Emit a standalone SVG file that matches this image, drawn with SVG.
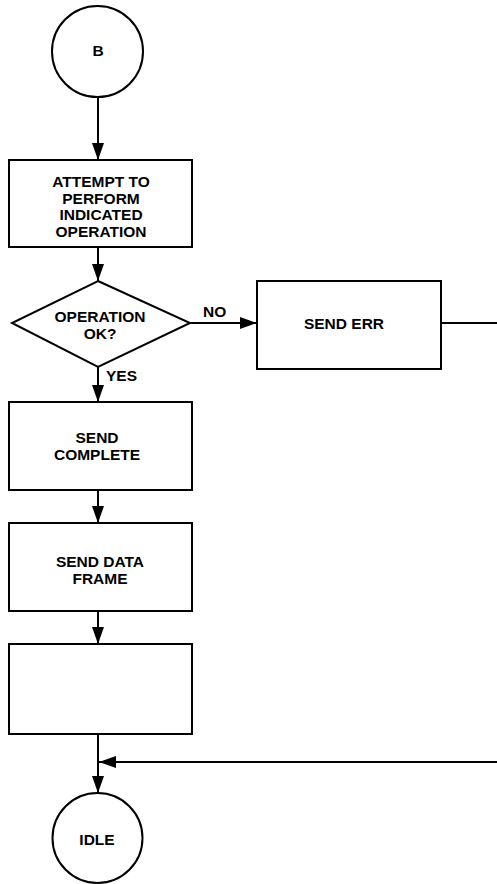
<svg xmlns="http://www.w3.org/2000/svg" width="497" height="884" viewBox="0 0 497 884">
<defs>
<marker id="ah" markerUnits="userSpaceOnUse" markerWidth="17" markerHeight="14" viewBox="0 0 17 14" refX="17" refY="7" orient="auto">
<path d="M0,1 L17,7 L0,13 Z" fill="#000"/>
</marker>
</defs>
<style>
.s{fill:#fff;stroke:#000;stroke-width:2}
.c{fill:none;stroke:#000;stroke-width:2}
text{font-family:"Liberation Sans",Arial,sans-serif;font-weight:bold;font-size:15.5px;fill:#000;text-anchor:middle}
.l{text-anchor:start}
</style>
<rect width="497" height="884" fill="#fff"/>
<g id="connectors">
<path class="c" d="M98,97 L98,160" marker-end="url(#ah)"/>
<path class="c" d="M98,247 L98,281" marker-end="url(#ah)"/>
<path class="c" d="M190,323 L257,323" marker-end="url(#ah)"/>
<path class="c" d="M98,367 L98,402" marker-end="url(#ah)"/>
<path class="c" d="M98,490 L98,523" marker-end="url(#ah)"/>
<path class="c" d="M98,611 L98,644" marker-end="url(#ah)"/>
<path class="c" d="M98,734 L98,793" marker-end="url(#ah)"/>
<path class="c" d="M441,323 L497,323"/>
<path class="c" d="M497,762 L99,762" marker-end="url(#ah)"/>
<text class="l" x="203" y="317">NO</text>
<text class="l" x="106" y="381">YES</text>
</g>
<g id="B">
<circle class="s" cx="97.5" cy="51.5" r="45.5"/>
<text x="98" y="56">B</text>
</g>
<g id="attempt">
<rect class="s" x="9" y="160" width="183" height="87"/>
<text x="101" y="186.5">ATTEMPT TO</text>
<text x="101" y="203.5">PERFORM</text>
<text x="101" y="220">INDICATED</text>
<text x="101" y="237">OPERATION</text>
</g>
<g id="opok">
<polygon class="s" points="98,281 190,323 98,367 12,323"/>
<text x="100" y="321.5">OPERATION</text>
<text x="100" y="338.5">OK?</text>
</g>
<g id="senderr">
<rect class="s" x="257" y="281" width="184" height="88"/>
<text x="344" y="329">SEND ERR</text>
</g>
<g id="complete">
<rect class="s" x="9" y="402" width="183" height="88"/>
<text x="97" y="443">SEND</text>
<text x="97" y="460">COMPLETE</text>
</g>
<g id="dataframe">
<rect class="s" x="9" y="523" width="183" height="88"/>
<text x="100" y="567">SEND DATA</text>
<text x="100" y="583.5">FRAME</text>
</g>
<g id="empty">
<rect class="s" x="9" y="644" width="183" height="90"/>
</g>
<g id="IDLE">
<circle class="s" cx="97.5" cy="838" r="45"/>
<text x="97" y="845">IDLE</text>
</g>
</svg>
